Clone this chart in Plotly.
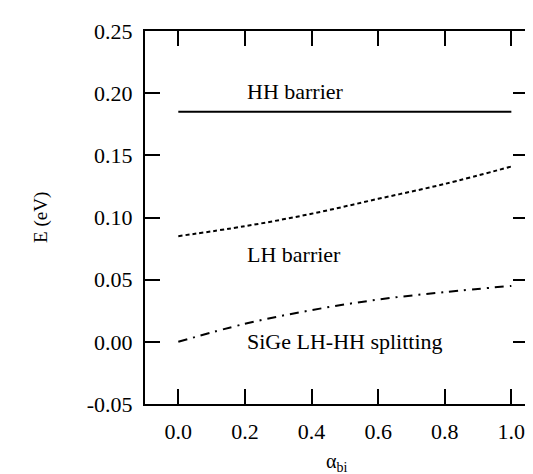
import plotly.graph_objects as go

alpha = [0.0, 0.2, 0.4, 0.6, 0.8, 1.0]
hh_barrier = [0.185, 0.185, 0.185, 0.185, 0.185, 0.185]
lh_barrier = [0.085, 0.093, 0.103, 0.115, 0.127, 0.141]
lh_hh_split = [0.0, 0.0145, 0.0255, 0.034, 0.040, 0.045]

x_ticks = [0.0, 0.2, 0.4, 0.6, 0.8, 1.0]
x_ticklabels = ["0.0", "0.2", "0.4", "0.6", "0.8", "1.0"]
y_ticks = [-0.05, 0.0, 0.05, 0.10, 0.15, 0.20, 0.25]
y_ticklabels = ["-0.05", "0.00", "0.05", "0.10", "0.15", "0.20", "0.25"]

FONT = "Liberation Serif, Times New Roman, serif"

fig = go.Figure()
fig.add_trace(go.Scatter(x=alpha, y=hh_barrier, mode="lines",
                         line=dict(color="black", width=2), showlegend=False))
fig.add_trace(go.Scatter(x=alpha, y=lh_barrier, mode="lines", line_shape="spline",
                         line=dict(color="black", width=2, dash="4px,3px"), showlegend=False))
fig.add_trace(go.Scatter(x=alpha, y=lh_hh_split, mode="lines", line_shape="spline",
                         line=dict(color="black", width=2, dash="9px,6px,2px,6px"), showlegend=False))

labels = [("HH barrier", 0.2, 0.201), ("LH barrier", 0.2, 0.07), ("SiGe LH-HH splitting", 0.2, 0.0)]
for txt, lx, ly in labels:
    fig.add_annotation(x=lx, y=ly, text=txt, showarrow=False, xanchor="left", yanchor="middle",
                       font=dict(family=FONT, size=22, color="black"))

fig.add_annotation(xref="paper", yref="paper", x=-0.273, y=0.5, text="E (eV)", textangle=-90,
                   showarrow=False, xanchor="center", yanchor="middle",
                   font=dict(family=FONT, size=19, color="black"))
fig.add_annotation(xref="paper", yref="paper", x=0.5, y=-0.158, text="α<sub>bi</sub>",
                   showarrow=False, xanchor="center", yanchor="middle",
                   font=dict(family=FONT, size=20, color="black"))

axis_common = dict(showgrid=False, zeroline=False, showline=True, linecolor="black", linewidth=2,
                   mirror="ticks", ticks="inside", ticklen=15, tickwidth=2, tickcolor="black",
                   tickfont=dict(family=FONT, size=22, color="black"))
fig.update_xaxes(range=[-0.1, 1.05], tickvals=x_ticks, ticktext=x_ticklabels,
                 ticklabelstandoff=7, **axis_common)
fig.update_yaxes(range=[-0.05, 0.25], tickvals=y_ticks, ticktext=y_ticklabels,
                 ticklabelstandoff=6, **axis_common)

fig.update_layout(width=533, height=474, margin=dict(l=137, r=11, t=11, b=78),
                  plot_bgcolor="white", paper_bgcolor="white")
fig.write_html("out.html")
